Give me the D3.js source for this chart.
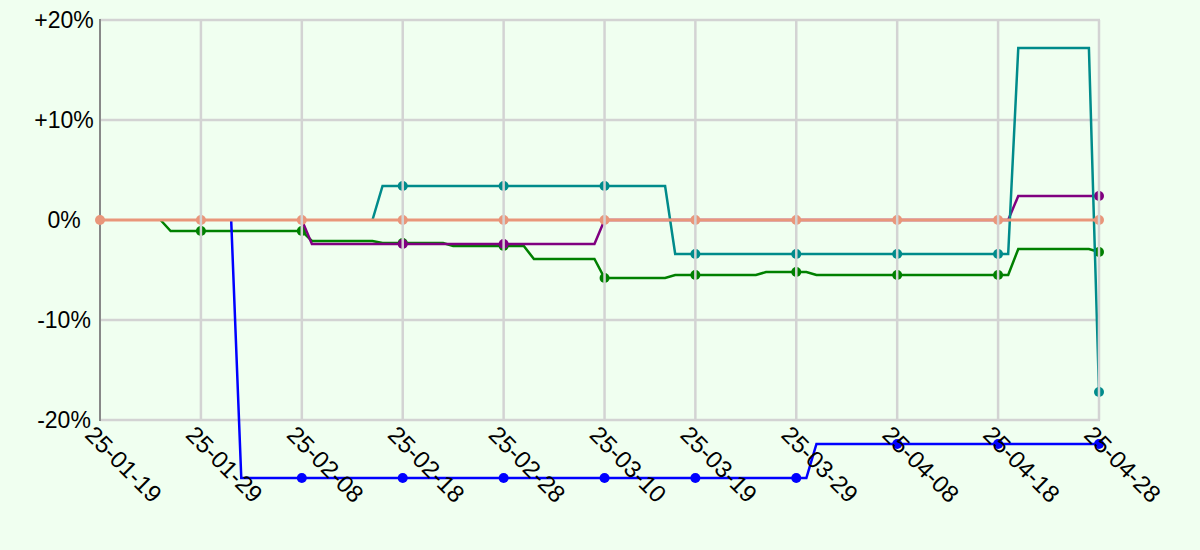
<!DOCTYPE html>
<html>
<head>
<meta charset="utf-8">
<script src="https://cdn.jsdelivr.net/npm/d3@7"></script>
<style>
  html, body { margin: 0; padding: 0; background: #F0FFF0; }
  svg { display: block; }
  text { font-family: "Liberation Sans", Arial, sans-serif; }
</style>
</head>
<body>
<svg id="chart" width="1200" height="550"></svg>
<script>
// ---- data ----
const tickDates = ["2025-01-19","2025-01-29","2025-02-08","2025-02-18","2025-02-28","2025-03-10",
                   "2025-03-19","2025-03-29","2025-04-08","2025-04-18","2025-04-28"];
const yTickValues = [-20, -10, 0, 10, 20];
const yTickLabels = ["-20%", "-10%", "0%", "+10%", "+20%"];

const greenDates  = ["2025-01-25","2025-01-26","2025-01-29","2025-02-08","2025-02-09","2025-02-15","2025-02-16",
                     "2025-02-18","2025-02-22","2025-02-23","2025-02-28","2025-03-02","2025-03-03","2025-03-09",
                     "2025-03-10","2025-03-16","2025-03-17","2025-03-19","2025-03-25","2025-03-26","2025-03-29",
                     "2025-03-30","2025-03-31","2025-04-08","2025-04-18","2025-04-19","2025-04-20","2025-04-27","2025-04-28"];
const greenValues = [0,-1.1,-1.1,-1.1,-2.1,-2.1,-2.3,
                     -2.3,-2.3,-2.6,-2.6,-2.6,-3.9,-3.9,
                     -5.8,-5.8,-5.5,-5.5,-5.5,-5.2,-5.2,
                     -5.2,-5.5,-5.5,-5.5,-5.5,-2.9,-2.9,-3.2];

const purpleDates  = ["2025-02-08","2025-02-09","2025-02-18","2025-02-28","2025-03-09","2025-03-10","2025-03-19",
                      "2025-03-29","2025-04-08","2025-04-18","2025-04-19","2025-04-20","2025-04-28"];
const purpleValues = [0,-2.4,-2.4,-2.4,-2.4,0,0,
                      0,0,0,0,2.4,2.4];

const tealDates  = ["2025-02-15","2025-02-16","2025-02-18","2025-02-28","2025-03-10","2025-03-16","2025-03-17",
                    "2025-03-19","2025-03-29","2025-04-08","2025-04-18","2025-04-19","2025-04-20","2025-04-27","2025-04-28"];
const tealValues = [0,3.4,3.4,3.4,3.4,3.4,-3.4,
                    -3.4,-3.4,-3.4,-3.4,-3.4,17.2,17.2,-17.2];

const blueDates  = ["2025-02-01","2025-02-02","2025-02-08","2025-02-18","2025-02-28","2025-03-10","2025-03-19",
                    "2025-03-29","2025-03-30","2025-03-31","2025-04-08","2025-04-18","2025-04-28"];
const blueValues = [0,-25.8,-25.8,-25.8,-25.8,-25.8,-25.8,
                    -25.8,-25.8,-22.4,-22.4,-22.4,-22.4];

const salmonDates  = tickDates.slice();
const salmonValues = [0,0,0,0,0,0,0,0,0,0,0];

const seriesNames  = ["green","purple","teal","blue","salmon"];
const seriesColors = ["#008000","#800080","#008B8B","#0000FF","#E9967A"];
const seriesDates  = [greenDates, purpleDates, tealDates, blueDates, salmonDates];
const seriesValues = [greenValues, purpleValues, tealValues, blueValues, salmonValues];

// ---- chart ----
const parse = d3.utcParse("%Y-%m-%d");
const fmt = d3.utcFormat("%y-%m-%d");
const svg = d3.select("#chart");
const W = 1200, H = 550;
svg.append("rect").attr("width", W).attr("height", H).attr("fill", "#F0FFF0");

const x = d3.scaleUtc().domain([parse(tickDates[0]), parse(tickDates[tickDates.length - 1])]).range([100, 1099]);
const y = d3.scaleLinear().domain([-20, 20]).range([420, 20]);

// horizontal grid (below series)
svg.append("g").selectAll("line").data(yTickValues.filter(v => v !== 0)).join("line")
  .attr("x1", 100).attr("x2", 1100)
  .attr("y1", d => y(d)).attr("y2", d => y(d))
  .attr("stroke", "#D3D3D3").attr("stroke-width", 2.5);

// y axis line
svg.append("line").attr("x1", 100).attr("x2", 100).attr("y1", y(20) - 1).attr("y2", y(-20) + 1)
  .attr("stroke", "#888888").attr("stroke-width", 2);

// y labels
svg.append("g").selectAll("text").data(yTickValues).join("text")
  .attr("x", 64).attr("y", d => y(d)).attr("dy", "0.35em")
  .attr("text-anchor", "middle").attr("font-size", 23).attr("fill", "#000")
  .text((d, i) => yTickLabels[i]);

// series
const line = d3.line().x(d => x(d.date)).y(d => y(d.value));
const tickSet = new Set(tickDates);
seriesNames.forEach((name, si) => {
  const pts = seriesDates[si].map((ds, i) => ({ds, date: parse(ds), value: seriesValues[si][i]}));
  const g = svg.append("g").attr("class", "series-" + name);
  g.append("path").datum(pts).attr("d", line)
    .attr("fill", "none").attr("stroke", seriesColors[si])
    .attr("stroke-width", name === "salmon" ? 3 : 2.5)
    .attr("stroke-linejoin", "miter");
  // markers at tick dates (points sitting on the 0% baseline are covered by the salmon series)
  g.selectAll("circle").data(pts.filter(p => tickSet.has(p.ds) && (name === "salmon" || p.value !== 0))).join("circle")
    .attr("cx", d => x(d.date)).attr("cy", d => y(d.value)).attr("r", 5)
    .attr("fill", seriesColors[si]);
});

// vertical grid (drawn over series)
svg.append("g").selectAll("line").data(tickDates.slice(1)).join("line")
  .attr("x1", d => x(parse(d))).attr("x2", d => x(parse(d)))
  .attr("y1", y(20)).attr("y2", y(-20))
  .attr("stroke", "#D3D3D3").attr("stroke-width", 2.5);

// x labels
svg.append("g").selectAll("text").data(tickDates).join("text")
  .attr("transform", d => `translate(${x(parse(d))},420) rotate(45)`)
  .attr("x", 0).attr("y", 6).attr("dy", "0.71em")
  .attr("text-anchor", "start").attr("font-size", 24).attr("fill", "#000")
  .text(d => fmt(parse(d)));
</script>
</body>
</html>
